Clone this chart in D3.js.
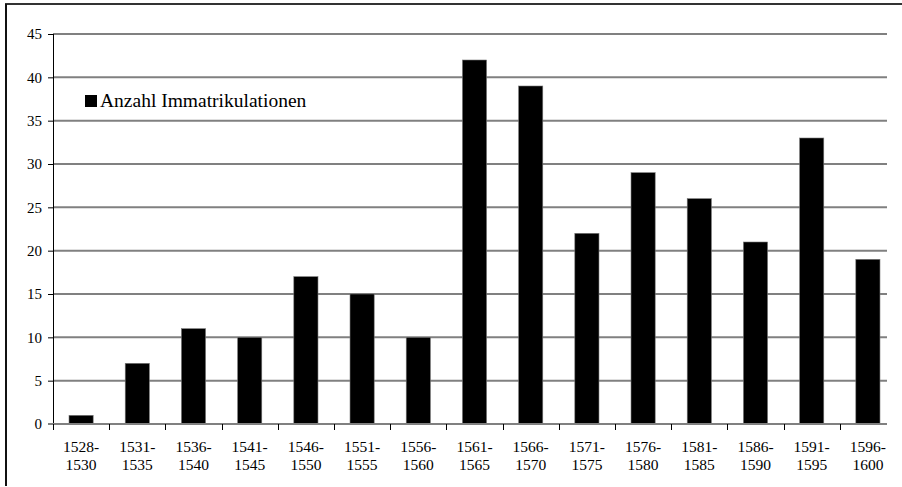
<!DOCTYPE html>
<html>
<head>
<meta charset="utf-8">
<script src="https://cdn.jsdelivr.net/npm/d3@7"></script>
<style>
	body { margin: 0; background: #fff; }
	svg text { font-family: "Liberation Serif", "Times New Roman", serif; fill: #000; }
</style>
</head>
<body>
<div id="viz-holder"></div>
<script>
// Zeiträume und Anzahl der Immatrikulationen
let periods = ["1528-1530", "1531-1535", "1536-1540", "1541-1545", "1546-1550", "1551-1555", "1556-1560",
	"1561-1565", "1566-1570", "1571-1575", "1576-1580", "1581-1585", "1586-1590", "1591-1595", "1596-1600"];
let immatrikulationen = [1, 7, 11, 10, 17, 15, 10, 42, 39, 22, 29, 26, 21, 33, 19];
let yTicks = [0, 5, 10, 15, 20, 25, 30, 35, 40, 45];
let legendLabel = "Anzahl Immatrikulationen";

let width = 902, height = 487;
let margin = {left: 53, top: 34, bottom: 424};
let plotRight = 887;
let serif = '"Liberation Serif", "Times New Roman", serif';

let svg = d3.select('#viz-holder')
	.append('svg')
	.attr('width', width)
	.attr('height', height)
	.attr('font-family', serif);

// rahmen (nur oben und links sichtbar)
svg.append('line').attr('x1', 5).attr('x2', width).attr('y1', 4).attr('y2', 4)
	.attr('stroke', '#333').attr('stroke-width', 2);
svg.append('line').attr('x1', 6).attr('x2', 6).attr('y1', 4).attr('y2', 486)
	.attr('stroke', '#111').attr('stroke-width', 2);

let x = d3.scaleBand()
	.domain(periods)
	.range([margin.left, margin.left + 56.2 * periods.length])
	.paddingInner(0.57)
	.paddingOuter(0.285);

let y = d3.scaleLinear()
	.domain([0, 45])
	.range([margin.bottom, margin.top]);

// gitterlinien
svg.append('g')
	.selectAll('line')
	.data(yTicks.filter(d => d > 0))
	.enter()
	.append('line')
	.attr('x1', margin.left)
	.attr('x2', plotRight)
	.attr('y1', d => y(d))
	.attr('y2', d => y(d))
	.attr('stroke', '#808080')
	.attr('stroke-width', 2);

// balken
svg.append('g')
	.selectAll('rect')
	.data(immatrikulationen)
	.enter()
	.append('rect')
	.attr('x', (d, i) => x(periods[i]))
	.attr('width', x.bandwidth())
	.attr('y', d => y(d))
	.attr('height', d => y(0) - y(d))
	.attr('fill', '#000')
	.attr('stroke', '#777')
	.attr('stroke-width', 0.6);

// y-achse
let yAxis = d3.axisLeft(y).tickValues(yTicks).tickSize(5).tickPadding(6);
let gy = svg.append('g')
	.attr('transform', 'translate(' + margin.left + ',0)')
	.call(yAxis)
	.attr('font-family', serif);
gy.select('.domain').attr('stroke', '#000').attr('d', 'M0.5,' + margin.top + 'V' + margin.bottom);
gy.selectAll('.tick line').attr('stroke', '#000');
gy.selectAll('.tick text').style('font-size', '15px').attr('fill', '#000');

// x-achse
svg.append('line')
	.attr('x1', margin.left - 5).attr('x2', plotRight)
	.attr('y1', y(0)).attr('y2', y(0))
	.attr('stroke', '#808080').attr('stroke-width', 2);

let step = x.step();
svg.append('g')
	.selectAll('line')
	.data(periods)
	.enter()
	.append('line')
	.attr('x1', (d, i) => Math.round(margin.left + i * step) + 0.5)
	.attr('x2', (d, i) => Math.round(margin.left + i * step) + 0.5)
	.attr('y1', y(0))
	.attr('y2', y(0) + 6)
	.attr('stroke', '#000');

let labels = svg.append('g')
	.selectAll('text')
	.data(periods)
	.enter()
	.append('text')
	.attr('text-anchor', 'middle')
	.style('font-size', '15.5px')
	.attr('transform', d => 'translate(' + (x(d) + x.bandwidth() / 2) + ',' + 452 + ')');

labels.append('tspan').attr('x', 0).attr('y', 0).text(d => d.split('-')[0] + '-');
labels.append('tspan').attr('x', 0).attr('y', 18).text(d => d.split('-')[1]);

// legende
svg.append('rect')
	.attr('x', 85).attr('y', 95)
	.attr('width', 12).attr('height', 12)
	.attr('fill', '#000');
svg.append('text')
	.attr('x', 100).attr('y', 107)
	.style('font-size', '19.5px')
	.text(legendLabel);
</script>
</body>
</html>
